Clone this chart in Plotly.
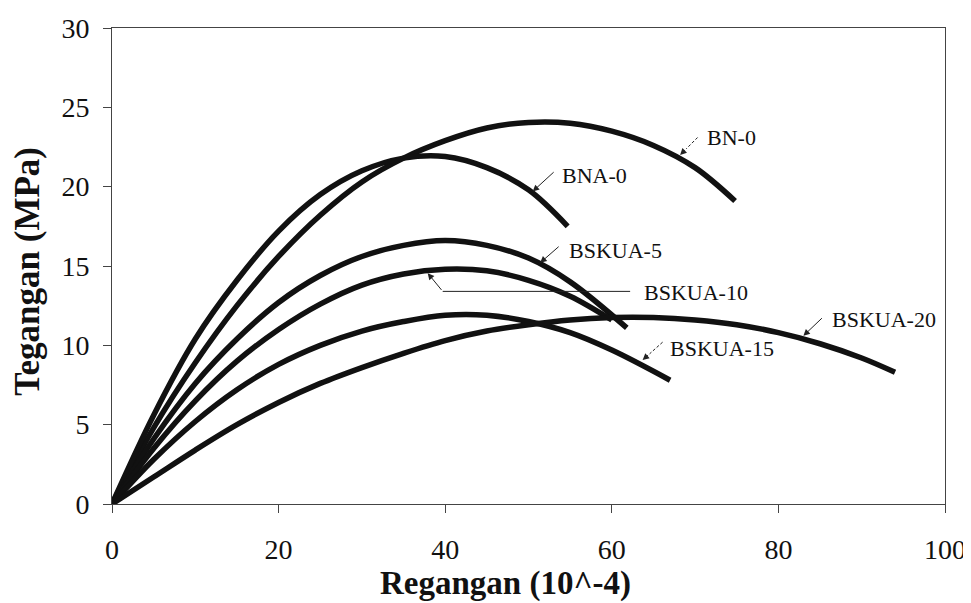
import plotly.graph_objects as go

# ---- data (strain 10^-4, stress MPa) ----
bn0_x = [0, 5, 10, 15, 20, 25, 30, 35, 40, 45, 50, 55, 60, 65, 70, 74.8]
bn0_y = [0, 4.8, 8.9, 12.5, 15.6, 18.2, 20.3, 21.8, 22.9, 23.7, 24.05, 24.0, 23.5, 22.6, 21.2, 19.1]

bna0_x = [0, 5, 10, 15, 20, 25, 30, 35, 40, 45, 50, 54.7]
bna0_y = [0, 5.6, 10.4, 14.1, 17.2, 19.5, 21.0, 21.8, 21.9, 21.2, 19.8, 17.5]

bskua5_x = [0, 5, 10, 15, 20, 25, 30, 35, 40, 45, 50, 55, 61.8]
bskua5_y = [0, 4.1, 7.6, 10.4, 12.7, 14.4, 15.6, 16.3, 16.6, 16.3, 15.5, 14.0, 11.1]

bskua10_x = [0, 5, 10, 15, 20, 25, 30, 35, 40, 45, 50, 55, 60]
bskua10_y = [0, 3.5, 6.5, 9.0, 11.0, 12.6, 13.8, 14.5, 14.8, 14.7, 14.1, 13.1, 11.6]

bskua15_x = [0, 5, 10, 15, 20, 25, 30, 35, 40, 45, 50, 55, 60, 67]
bskua15_y = [0, 2.8, 5.2, 7.2, 8.8, 10.0, 10.9, 11.5, 11.9, 11.9, 11.5, 10.8, 9.7, 7.8]

bskua20_x = [0, 5, 10, 15, 20, 25, 30, 35, 40, 45, 50, 55, 60, 65, 70, 75, 80, 85, 90, 94]
bskua20_y = [0, 1.7, 3.4, 5.0, 6.4, 7.6, 8.6, 9.5, 10.3, 10.9, 11.3, 11.6, 11.75, 11.75, 11.6, 11.3, 10.8, 10.1, 9.2, 8.3]

series = [
    ("BN-0", bn0_x, bn0_y),
    ("BNA-0", bna0_x, bna0_y),
    ("BSKUA-5", bskua5_x, bskua5_y),
    ("BSKUA-10", bskua10_x, bskua10_y),
    ("BSKUA-15", bskua15_x, bskua15_y),
    ("BSKUA-20", bskua20_x, bskua20_y),
]

# label text position (left edge) and arrow tail/tip, data coords
label_names = ["BN-0", "BNA-0", "BSKUA-5", "BSKUA-10", "BSKUA-15", "BSKUA-20"]
label_x = [71.2, 53.8, 54.6, 63.6, 66.7, 86.2]
label_y = [23.1, 20.7, 16.0, 13.3, 9.8, 11.6]
tail_x = [70.3, 53.2, 53.8, 39.7, 66.1, 85.4]
tail_y = [23.1, 21.0, 16.3, 13.4, 10.2, 11.8]
tip_x = [68.2, 50.5, 51.4, 37.9, 63.7, 83.0]
tip_y = [22.0, 19.7, 15.2, 14.55, 9.07, 10.6]
dashed = [True, False, False, False, True, False]

x_ticks = [0, 20, 40, 60, 80, 100]
y_ticks = [0, 5, 10, 15, 20, 25, 30]

FONT = "Liberation Serif, Times New Roman, serif"
INK = "#111111"
THIN = "#222222"

fig = go.Figure()
for name, xs, ys in series:
    fig.add_trace(go.Scatter(x=xs, y=ys, mode="lines", name=name,
                             line=dict(color=INK, width=5.5, shape="spline", smoothing=1.0),
                             showlegend=False))

for i, nm in enumerate(label_names):
    fig.add_annotation(x=label_x[i], y=label_y[i], text=nm, showarrow=False,
                       xanchor="left", yanchor="middle",
                       font=dict(family=FONT, size=22, color=INK))
    if dashed[i]:
        # dashed shaft, short solid piece carrying the head
        mx = tip_x[i] + 0.35 * (tail_x[i] - tip_x[i])
        my = tip_y[i] + 0.35 * (tail_y[i] - tip_y[i])
        fig.add_shape(type="line", x0=tail_x[i], y0=tail_y[i], x1=mx, y1=my,
                      line=dict(color=THIN, width=1, dash="3px,2px"))
        ax, ay = mx, my
    else:
        ax, ay = tail_x[i], tail_y[i]
    fig.add_annotation(x=tip_x[i], y=tip_y[i], ax=ax, ay=ay,
                       axref="x", ayref="y", text="", showarrow=True,
                       arrowhead=2, arrowsize=1.3, arrowwidth=1, arrowcolor=THIN)

# leader line for BSKUA-10
fig.add_shape(type="line", x0=tail_x[3], y0=tail_y[3], x1=62.2, y1=tail_y[3],
              line=dict(color=THIN, width=1))

# axis titles
fig.add_annotation(xref="paper", yref="paper", x=0.472, y=-0.166,
                   text="<b>Regangan (10^-4)</b>", showarrow=False,
                   xanchor="center", yanchor="middle",
                   font=dict(family=FONT, size=33, color=INK))
fig.add_annotation(xref="paper", yref="paper", x=-0.101, y=0.49,
                   text="<b>Tegangan (MPa)</b>", showarrow=False, textangle=-90,
                   xanchor="center", yanchor="middle",
                   font=dict(family=FONT, size=35, color=INK))

# the page body adds an 8px offset; size/margins compensate so the plot
# area lands at x 112..945, y 28..504 in the window
fig.update_layout(
    width=963, height=595,
    margin=dict(l=104, r=26, t=20, b=99),
    paper_bgcolor="white", plot_bgcolor="white",
    font=dict(family=FONT, color=INK),
)
fig.update_xaxes(range=[0, 100], tickvals=x_ticks, ticks="outside", ticklen=8,
                 tickcolor="#444444", showline=True, linecolor="#444444", linewidth=1,
                 mirror=True, showgrid=False, zeroline=False, automargin=False,
                 tickfont=dict(family=FONT, size=28, color=INK), ticklabelstandoff=12)
fig.update_yaxes(range=[0, 30], tickvals=y_ticks, ticks="outside", ticklen=8,
                 tickcolor="#444444", showline=True, linecolor="#444444", linewidth=1,
                 mirror=True, showgrid=False, zeroline=False, automargin=False,
                 tickfont=dict(family=FONT, size=28, color=INK), ticklabelstandoff=8)

fig.write_html("out.html")
